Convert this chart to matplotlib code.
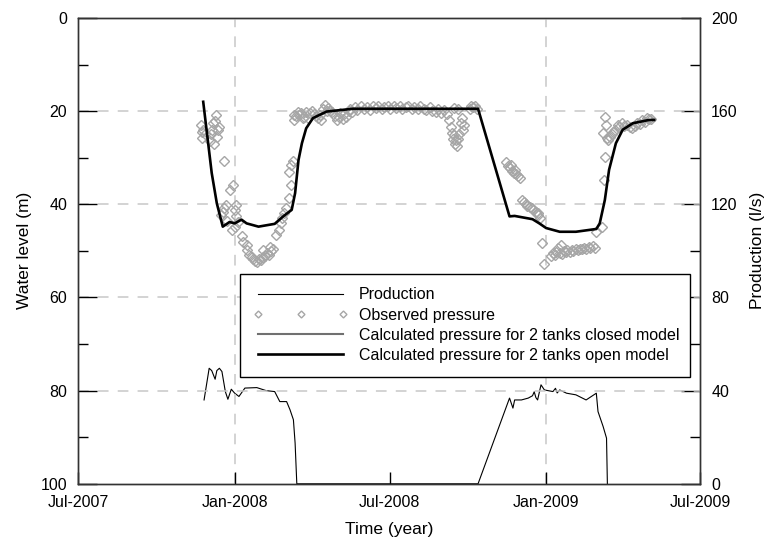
#!/usr/bin/env python3

import pandas as pd
import matplotlib
matplotlib.use('Agg')
import matplotlib.pyplot as plt
import matplotlib.dates as mdates
from matplotlib.lines import Line2D
from matplotlib.ticker import MultipleLocator

plt.rcParams['font.family'] = ['Liberation Sans', 'DejaVu Sans']

# Production (l/s), right axis
prod_dates = ['2007-11-26', '2007-12-02', '2007-12-05', '2007-12-09', '2007-12-11',
              '2007-12-14', '2007-12-17', '2007-12-21', '2007-12-24', '2007-12-28',
              '2008-01-01', '2008-01-06', '2008-01-13', '2008-01-27', '2008-02-07',
              '2008-02-17', '2008-02-23', '2008-03-02', '2008-03-06', '2008-03-10',
              '2008-03-12', '2008-03-14', '2008-10-13', '2008-11-19', '2008-11-23',
              '2008-11-25', '2008-12-03', '2008-12-11', '2008-12-16', '2008-12-18',
              '2008-12-20', '2008-12-22', '2008-12-26', '2008-12-30', '2009-01-09',
              '2009-01-12', '2009-01-14', '2009-01-17', '2009-01-25', '2009-02-05',
              '2009-02-17', '2009-03-01', '2009-03-03', '2009-03-09', '2009-03-13',
              '2009-03-14']
prod_vals = [36.0, 49.6, 48.6, 44.9, 48.6,
             49.6, 48.2, 39.6, 36.3, 40.6,
             38.9, 37.5, 41.1, 41.3, 40.0,
             39.6, 35.3, 35.3, 31.8, 27.5,
             17.5, 0.0, 0.0, 36.8, 32.5,
             36.0, 36.0, 36.8, 37.8, 39.5,
             37.0, 36.0, 42.5, 40.3, 39.6,
             41.0, 39.0, 40.3, 38.9, 38.2,
             36.0, 38.9, 31.0, 24.6, 19.6,
             0.0]

# Calculated pressure, 2 tanks open model (water level, m)
open_dates = ['2007-11-25', '2007-12-05', '2007-12-11', '2007-12-18', '2007-12-26',
              '2008-01-01', '2008-01-09', '2008-01-15', '2008-01-29', '2008-02-17',
              '2008-02-27', '2008-03-08', '2008-03-12', '2008-03-16', '2008-03-20',
              '2008-03-25', '2008-04-02', '2008-04-18', '2008-05-19', '2008-10-13',
              '2008-11-19', '2008-11-25', '2008-12-16', '2008-12-24', '2009-01-01',
              '2009-01-17', '2009-02-05', '2009-03-01', '2009-03-05', '2009-03-11',
              '2009-03-16', '2009-03-24', '2009-04-01', '2009-04-13', '2009-05-02',
              '2009-05-08']
open_level = [18.0, 33.3, 39.8, 44.8, 43.8,
              44.1, 43.3, 44.1, 44.8, 44.2,
              42.6, 41.2, 37.6, 30.5, 26.9,
              23.7, 21.5, 20.1, 19.5, 19.5,
              42.6, 42.5, 43.2, 44.1, 45.1,
              45.9, 45.9, 45.3, 44.1, 39.1,
              32.6, 26.9, 24.0, 22.6, 21.9,
              21.9]

# Observed pressure (water level, m)
obs_dates = ['2007-11-22', '2007-11-23', '2007-11-24', '2007-11-25', '2007-11-27',
             '2007-12-03', '2007-12-04', '2007-12-05', '2007-12-06', '2007-12-08',
             '2007-12-09', '2007-12-10', '2007-12-11', '2007-12-12', '2007-12-13',
             '2007-12-16', '2007-12-18', '2007-12-19', '2007-12-20', '2007-12-22',
             '2007-12-23', '2007-12-26', '2007-12-29', '2007-12-30', '2008-01-01',
             '2008-01-01', '2008-01-03', '2008-01-03', '2008-01-05', '2008-01-09',
             '2008-01-11', '2008-01-15', '2008-01-16', '2008-01-18', '2008-01-21',
             '2008-01-23', '2008-01-25', '2008-01-27', '2008-01-30', '2008-02-01',
             '2008-02-03', '2008-02-03', '2008-02-06', '2008-02-08', '2008-02-10',
             '2008-02-12', '2008-02-13', '2008-02-15', '2008-02-18', '2008-02-22',
             '2008-02-24', '2008-02-26', '2008-02-28', '2008-03-01', '2008-03-05',
             '2008-03-05', '2008-03-07', '2008-03-07', '2008-03-09', '2008-03-11',
             '2008-03-11', '2008-03-13', '2008-03-15', '2008-03-17', '2008-03-19',
             '2008-03-21', '2008-03-23', '2008-03-25', '2008-03-27', '2008-03-29',
             '2008-04-01', '2008-04-03', '2008-04-05', '2008-04-08', '2008-04-10',
             '2008-04-12', '2008-04-14', '2008-04-16', '2008-04-18', '2008-04-20',
             '2008-04-22', '2008-04-24', '2008-04-28', '2008-04-30', '2008-05-02',
             '2008-05-04', '2008-05-07', '2008-05-09', '2008-05-11', '2008-05-14',
             '2008-05-16', '2008-05-18', '2008-05-21', '2008-05-24', '2008-05-28',
             '2008-06-01', '2008-06-04', '2008-06-08', '2008-06-11', '2008-06-15',
             '2008-06-18', '2008-06-22', '2008-06-25', '2008-06-29', '2008-07-02',
             '2008-07-06', '2008-07-09', '2008-07-13', '2008-07-16', '2008-07-20',
             '2008-07-23', '2008-07-27', '2008-07-30', '2008-08-03', '2008-08-06',
             '2008-08-10', '2008-08-13', '2008-08-17', '2008-08-20', '2008-08-24',
             '2008-08-27', '2008-08-31', '2008-09-03', '2008-09-07', '2008-09-09',
             '2008-09-11', '2008-09-12', '2008-09-14', '2008-09-15', '2008-09-15',
             '2008-09-16', '2008-09-17', '2008-09-18', '2008-09-19', '2008-09-20',
             '2008-09-21', '2008-09-23', '2008-09-24', '2008-09-25', '2008-09-26',
             '2008-10-03', '2008-10-05', '2008-10-07', '2008-10-10', '2008-10-12',
             '2008-11-15', '2008-11-17', '2008-11-20', '2008-11-21', '2008-11-22',
             '2008-11-24', '2008-11-25', '2008-11-27', '2008-11-29', '2008-12-01',
             '2008-12-04', '2008-12-06', '2008-12-08', '2008-12-10', '2008-12-13',
             '2008-12-15', '2008-12-17', '2008-12-20', '2008-12-22', '2008-12-23',
             '2008-12-25', '2008-12-27', '2008-12-29', '2009-01-07', '2009-01-09',
             '2009-01-11', '2009-01-13', '2009-01-15', '2009-01-17', '2009-01-18',
             '2009-01-20', '2009-01-22', '2009-01-24', '2009-01-26', '2009-01-29',
             '2009-01-31', '2009-02-02', '2009-02-05', '2009-02-07', '2009-02-10',
             '2009-02-12', '2009-02-15', '2009-02-17', '2009-02-20', '2009-02-22',
             '2009-02-25', '2009-02-27', '2009-03-01', '2009-03-08', '2009-03-09',
             '2009-03-10', '2009-03-11', '2009-03-11', '2009-03-12', '2009-03-13',
             '2009-03-15', '2009-03-17', '2009-03-19', '2009-03-21', '2009-03-23',
             '2009-03-26', '2009-03-28', '2009-03-31', '2009-04-03', '2009-04-06',
             '2009-04-09', '2009-04-12', '2009-04-15', '2009-04-18', '2009-04-21',
             '2009-04-24', '2009-04-27', '2009-04-30', '2009-05-02', '2009-05-04']
obs_level = [23.0, 24.5, 25.7, 24.0, 25.0,
             26.5, 25.0, 24.0, 22.5, 27.0,
             22.2, 20.8, 25.5, 24.0, 23.5,
             42.3, 41.6, 30.8, 40.8, 40.1,
             43.5, 36.9, 45.5, 35.8, 41.2,
             44.8, 40.1, 42.6, 43.7, 46.9,
             48.0, 48.7, 49.8, 50.8, 51.3,
             51.8, 52.2, 52.4, 51.8, 52.0,
             51.3, 49.8, 51.0, 50.5, 50.8,
             49.1, 50.0, 49.6, 46.6, 45.5,
             44.1, 43.0, 41.9, 40.8, 38.7,
             33.0, 35.8, 31.5, 30.8, 20.8,
             21.9, 21.0, 20.1, 20.8, 20.5,
             21.5, 21.2, 20.3, 21.5, 20.5,
             20.0, 20.6, 21.0, 21.5, 20.8,
             21.9, 19.6, 18.7, 19.9, 19.4,
             20.0, 20.2, 21.0, 22.0, 21.3,
             20.4, 21.8, 20.6, 21.2, 20.0,
             19.6, 20.3, 19.2, 19.8, 19.0,
             19.5, 19.1, 19.7, 19.0, 19.4,
             19.0, 19.6, 19.2, 19.0, 19.5,
             19.0, 19.4, 19.0, 19.6, 19.2,
             19.0, 19.5, 19.1, 19.6, 19.0,
             19.5, 19.8, 19.2, 19.9, 20.3,
             19.6, 20.4, 19.8, 20.6, 22.0,
             23.5, 24.8, 26.0, 25.2, 19.3,
             27.0, 26.3, 27.5, 26.0, 19.6,
             25.0, 22.5, 21.5, 24.0, 23.0,
             19.5, 18.8, 19.2, 19.0, 19.6,
             31.0, 31.8, 32.2, 31.6, 32.9,
             33.3, 32.6, 33.6, 34.0, 34.4,
             39.1, 39.6, 40.0, 40.3, 40.6,
             40.9, 41.3, 41.6, 41.9, 42.3,
             43.0, 48.3, 52.9, 51.0, 50.5,
             50.8, 50.2, 49.3, 50.4, 48.7,
             50.6, 50.1, 50.3, 49.9, 50.2,
             49.8, 50.0, 49.6, 49.9, 49.5,
             49.7, 49.3, 49.5, 49.1, 49.4,
             49.0, 49.3, 45.9, 44.8, 24.7,
             34.8, 29.9, 21.2, 23.0, 25.8,
             26.2, 25.5, 25.0, 24.4, 24.0,
             23.0, 23.4, 22.6, 23.2, 23.0,
             23.5, 23.7, 23.2, 22.6, 22.8,
             22.0, 22.3, 21.5, 21.8, 21.6]

grid_dates = ['2008-01-01', '2009-01-01']

fig = plt.figure(figsize=(7.66, 5.43), dpi=100)
ax = fig.add_axes([0.102, 0.109, 0.812, 0.858])
ax2 = ax.twinx()

ax.set_zorder(ax2.get_zorder() + 1)
ax.patch.set_visible(False)

# grid lines
for lvl in [20, 40, 60, 80]:
    ax.axhline(lvl, color='#c8c8c8', lw=1.1, ls=(0, (7, 6)), zorder=0)
for d in grid_dates:
    ax.axvline(pd.Timestamp(d), color='#c8c8c8', lw=1.1, ls=(0, (7, 6)), zorder=0)

ax2.plot(pd.to_datetime(prod_dates), prod_vals, color='black', lw=0.8)

ax.plot(pd.to_datetime(obs_dates), obs_level, ls='none', marker='D', ms=4.8,
        mfc='none', mec='#a6a6a6', mew=1.0, zorder=2)
ax.plot(pd.to_datetime(open_dates), open_level, color='black', lw=1.9, zorder=3)

ax.set_xlim(pd.Timestamp('2007-07-01'), pd.Timestamp('2009-07-01'))
ax.set_ylim(100, 0)
ax2.set_ylim(0, 200)

ax.xaxis.set_major_locator(mdates.MonthLocator(bymonth=[1, 7]))
ax.xaxis.set_major_formatter(mdates.DateFormatter('%b-%Y'))
ax.yaxis.set_major_locator(MultipleLocator(20))
ax.yaxis.set_minor_locator(MultipleLocator(10))
ax2.yaxis.set_major_locator(MultipleLocator(40))
ax2.yaxis.set_minor_locator(MultipleLocator(20))

ax.tick_params(axis='x', which='major', direction='in', length=9, width=1,
               labelsize=11.5, pad=8)
ax.tick_params(axis='y', which='major', direction='in', length=14, width=1,
               labelsize=11.5, pad=8)
ax.tick_params(axis='y', which='minor', direction='in', length=7, width=1)
ax2.tick_params(axis='y', which='major', direction='in', length=14, width=1,
                labelsize=11.5, pad=8)
ax2.tick_params(axis='y', which='minor', direction='in', length=7, width=1)

for a in (ax, ax2):
    for s in a.spines.values():
        s.set_color('#333333')
        s.set_linewidth(1.0)

ax.set_xlabel('Time (year)', fontsize=12.5, labelpad=9)
ax.set_ylabel('Water level (m)', fontsize=12.5, labelpad=6)
ax2.set_ylabel('Production (l/s)', fontsize=12.5, labelpad=9)

handles = [
    Line2D([], [], color='black', lw=0.8),
    Line2D([], [], ls='none', marker='D', ms=3.5, mfc='none', mec='#a6a6a6', mew=1.0),
    Line2D([], [], color='#707070', lw=1.5),
    Line2D([], [], color='black', lw=1.9),
]
labels = ['Production', 'Observed pressure',
          'Calculated pressure for 2 tanks closed model',
          'Calculated pressure for 2 tanks open model']
leg = ax.legend(handles, labels, loc='lower left',
                bbox_to_anchor=(0.26, 0.23, 0.724, 0.229), mode='expand',
                borderaxespad=0, fontsize=11.5, numpoints=3, handlelength=5.9,
                handletextpad=0.7, labelspacing=0.33, borderpad=0.85,
                fancybox=False, framealpha=1, edgecolor='black')
leg.get_frame().set_linewidth(1.0)

fig.savefig('out.png', dpi=100)
